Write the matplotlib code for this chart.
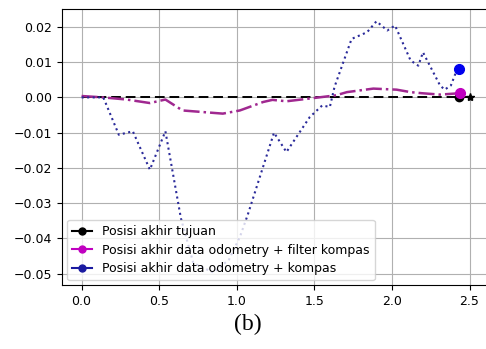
import matplotlib
matplotlib.use("Agg")
import matplotlib.pyplot as plt
from matplotlib.lines import Line2D

# odometry + kompas (dotted)
odo_x = [0.0, 0.14, 0.24, 0.33, 0.44, 0.54, 0.64, 0.72, 0.85, 0.95, 1.02, 1.07,
         1.24, 1.32, 1.47, 1.55, 1.60, 1.63, 1.74, 1.84, 1.90, 1.97, 2.02, 2.12,
         2.17, 2.20, 2.31, 2.34, 2.38, 2.42]
odo_y = [0.0, 0.0, -0.0106, -0.0096, -0.0205, -0.0096, -0.0343, -0.047, -0.0497,
         -0.046, -0.0396, -0.0334, -0.0100, -0.0155, -0.0056, -0.0023, -0.0027,
         0.0030, 0.0166, 0.0185, 0.0216, 0.0190, 0.0204, 0.0105, 0.0090, 0.0128,
         0.0034, 0.0022, 0.0034, 0.0080]

# odometry + filter kompas (dash-dot)
filt_x = [0.0, 0.14, 0.29, 0.44, 0.54, 0.65, 0.91, 1.02, 1.17, 1.23, 1.32, 1.51,
          1.64, 1.71, 1.88, 2.03, 2.12, 2.19, 2.31, 2.44]
filt_y = [0.0004, 0.0, -0.0006, -0.0016, -0.0006, -0.0037, -0.0046, -0.0037,
          -0.0013, -0.0007, -0.0011, -0.0001, 0.0006, 0.0015, 0.0025, 0.0022,
          0.0015, 0.0012, 0.0008, 0.0012]

# target path
target_x = [0.0, 2.5]
target_y = [0.0, 0.0]

end_target = (2.43, 0.0)
end_filt = (2.44, 0.0013)
end_odo = (2.43, 0.0080)
goal = (2.5, 0.0)

labels = ["Posisi akhir tujuan",
          "Posisi akhir data odometry + filter kompas",
          "Posisi akhir data odometry + kompas"]

fig = plt.figure(figsize=(4.86, 3.49), dpi=100)
ax = fig.add_axes([0.128, 0.183, 0.878, 0.792])

ax.plot(target_x, target_y, "k--", lw=1.4, dashes=(5, 2.5))
ax.plot(filt_x, filt_y, color="#a02890", ls="-.", lw=1.8)
ax.plot(odo_x, odo_y, color="#2a2a9a", ls=":", lw=1.5)

ax.plot(*end_target, "o", color="black", ms=6)
ax.plot(*end_filt, "o", color="#c000c0", ms=7)
ax.plot(*end_odo, "o", color="#0000ee", ms=7)
ax.plot(*goal, "*", color="black", ms=6)

ax.set_yticks([0.02, 0.01, 0.0, -0.01, -0.02, -0.03, -0.04, -0.05])
ax.set_xticks([0.0, 0.5, 1.0, 1.5, 2.0, 2.5])
ax.tick_params(labelsize=9)
ax.grid(True)

handles = [Line2D([], [], color="black", marker="o", ms=5),
           Line2D([], [], color="#c000c0", marker="o", ms=5),
           Line2D([], [], color="#1a1aa0", marker="o", ms=5)]
ax.legend(handles, labels, loc="lower left", fontsize=9, handlelength=1.6,
          borderaxespad=0.4, labelspacing=0.45)

fig.text(0.51, 0.07, "(b)", ha="center", va="center", fontsize=17,
         family="Liberation Serif")

fig.savefig("out.png", dpi=100)
